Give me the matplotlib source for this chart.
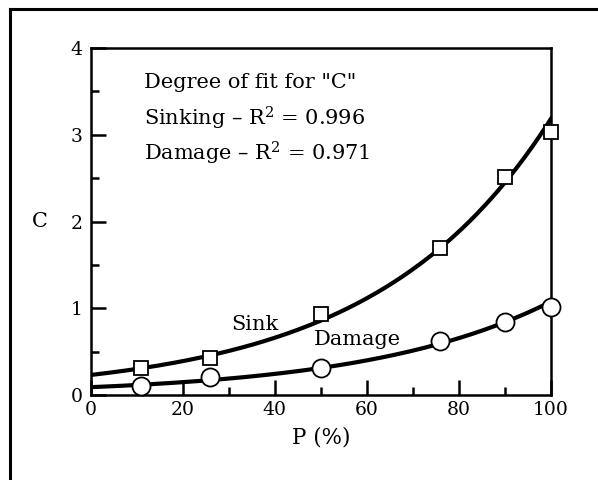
import numpy as np
import matplotlib.pyplot as plt
from matplotlib.lines import Line2D

plt.rcParams['font.family'] = 'DejaVu Serif'
plt.rcParams['mathtext.fontset'] = 'dejavuserif'

# -----------------------------
# Data
# -----------------------------
p_pct = [11, 26, 50, 76, 90, 100]
c_sink = [0.31, 0.43, 0.93, 1.70, 2.51, 3.03]
c_damage = [0.10, 0.21, 0.31, 0.62, 0.84, 1.01]

fit_lines = ['Degree of fit for "C"',
             'Sinking – R$^2$ = 0.996',
             'Damage – R$^2$ = 0.971']


def exp_fit(x, y):
    # log-linear fit, C = a * exp(b * P)
    b, ln_a = np.polyfit(x, np.log(y), 1)
    return np.exp(ln_a), b


fig = plt.figure(figsize=(5.98, 4.8), dpi=100)

# outer frame (cropped at right and bottom)
fig.add_artist(Line2D([0.016, 0.016], [0.0, 0.982], transform=fig.transFigure,
                      color='black', lw=2.2))
fig.add_artist(Line2D([0.016, 1.0], [0.982, 0.982], transform=fig.transFigure,
                      color='black', lw=2.2))

ax = fig.add_axes([0.152, 0.177, 0.769, 0.723])

xs = np.linspace(0, 100, 200)
a_s, b_s = exp_fit(p_pct, c_sink)
a_d, b_d = exp_fit(p_pct, c_damage)
ax.plot(xs, a_s * np.exp(b_s * xs), color='black', lw=3, zorder=2)
ax.plot(xs, a_d * np.exp(b_d * xs), color='black', lw=3, zorder=2)

ax.plot(p_pct, c_sink, ls='none', marker='s', ms=10, mfc='white',
        mec='black', mew=1.3, zorder=3, clip_on=False)
ax.plot(p_pct, c_damage, ls='none', marker='o', ms=13, mfc='white',
        mec='black', mew=1.3, zorder=3, clip_on=False)

ax.set_xlim(0, 100)
ax.set_ylim(0, 4)
ax.set_xticks(np.arange(0, 101, 20))
ax.set_xticks(np.arange(10, 100, 20), minor=True)
ax.set_yticks(np.arange(0, 5, 1))
ax.set_yticks(np.arange(0.5, 4, 1), minor=True)
ax.tick_params(which='major', direction='in', length=11, width=1.8,
               labelsize=13.5, pad=6)
ax.tick_params(which='minor', direction='in', length=6, width=1.8)
ax.tick_params(axis='x', pad=4)
for s in ax.spines.values():
    s.set_linewidth(1.8)

ax.set_xlabel('P (%)', fontsize=15.5, labelpad=6)
ax.text(-0.093, 0.5, 'C', transform=ax.transAxes, fontsize=15,
        ha='right', va='center')

for i, t in enumerate(fit_lines):
    ax.text(0.115, 0.9 - i * 0.102, t, transform=ax.transAxes, fontsize=15,
            ha='left', va='center')

ax.text(30.5, 0.70, 'Sink', fontsize=15, ha='left', va='bottom')
ax.text(48.5, 0.53, 'Damage', fontsize=15, ha='left', va='bottom')

fig.savefig('out.png', dpi=100)
